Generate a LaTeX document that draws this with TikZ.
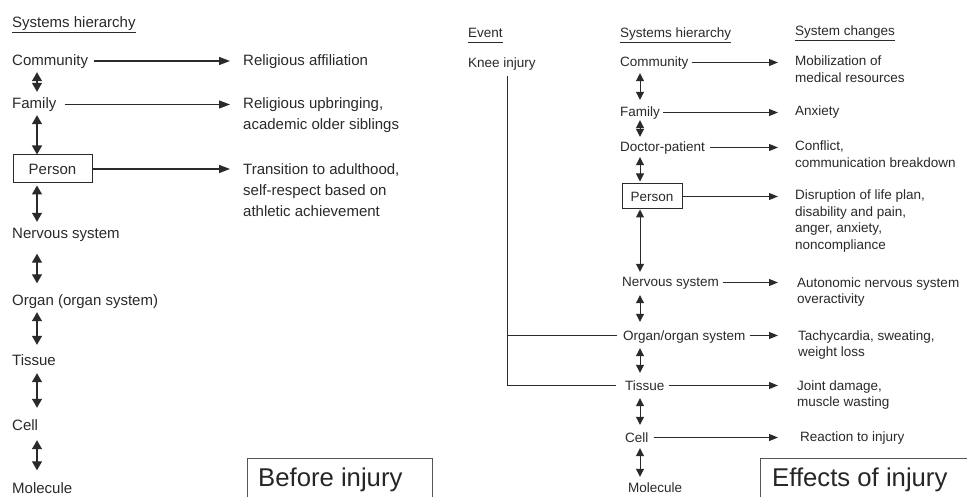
\documentclass[tikz,border=0pt]{standalone}
\usepackage{fontspec}
\setmainfont{Liberation Sans}
\usetikzlibrary{arrows.meta}
\definecolor{ink}{HTML}{2A2A2A}
\definecolor{boxline}{HTML}{555555}
\begin{document}
\begin{tikzpicture}[x=1pt,y=-1pt,
  every node/.style={text=ink},
  ltxt/.style={anchor=base west, inner sep=0pt, font=\fontsize{15}{21}\selectfont, text height=12pt, text depth=3pt},
  lmulti/.style={anchor=base west, inner sep=0pt, font=\fontsize{15}{21}\selectfont, align=left},
  rtxt/.style={anchor=base west, inner sep=0pt, font=\fontsize{13.5}{16.5}\selectfont, text height=11pt, text depth=2pt},
  rmulti/.style={anchor=base west, inner sep=0pt, font=\fontsize{13.5}{16.5}\selectfont, align=left},
  lbox/.style={draw=ink, line width=1pt, inner sep=0pt, minimum width=79pt, minimum height=28pt, font=\fontsize{15}{18}\selectfont},
  rbox/.style={draw=ink, line width=1pt, inner sep=0pt, minimum width=60pt, minimum height=25pt, font=\fontsize{13.5}{16}\selectfont},
  larr/.style={draw=ink, line width=1.2pt, -{Triangle[length=11pt,width=8pt]}},
  rarr/.style={draw=ink, line width=1pt, -{Triangle[length=9pt,width=7pt]}},
  ldarr/.style={draw=ink, line width=1.2pt, {Triangle[length=9pt,width=10pt]}-{Triangle[length=9pt,width=10pt]}},
  rdarr/.style={draw=ink, line width=1pt, {Triangle[length=8pt,width=8pt]}-{Triangle[length=8pt,width=8pt]}},
  uline/.style={draw=ink, line width=0.9pt},
  evl/.style={draw=ink, line width=1pt},
  tagbox/.style={draw=boxline, line width=1pt},
  tagtxt/.style={anchor=base west, inner sep=0pt, font=\fontsize{25.7}{30}\selectfont, text=black!85}
]
\useasboundingbox (0,0) rectangle (967,497);
\clip (0,0) rectangle (967,497);
\fill[white] (0,0) rectangle (967,497);

% ---------------- Left panel ----------------
\node[ltxt] (ltitle) at (12,28) {Systems hierarchy};
\draw[uline] ([yshift=-1pt]ltitle.south west) -- ([yshift=-1pt]ltitle.south east);

\node[ltxt] (lcomm) at (12,65.5) {Community};
\node[ltxt] (lfam) at (12,109) {Family};
\node[lbox] (lpers) at (52.5,169) {Person};
\node[ltxt] (lnerv) at (12,238.5) {Nervous system};
\node[ltxt] (lorg) at (12,305.5) {Organ (organ system)};
\node[ltxt] (ltis) at (12,365.5) {Tissue};
\node[ltxt] (lcell) at (12,430.5) {Cell};
\node[ltxt] (lmol) at (12,493.5) {Molecule};

% multi-line nodes: base anchor = baseline of the last line
\node[lmulti] (lrel) at (243,65.5) {Religious affiliation};
\node[lmulti] (lupb) at (243,130) {Religious upbringing,\\academic older siblings};
\node[lmulti] (ltrans) at (243,216.5) {Transition to adulthood,\\self-respect based on\\athletic achievement};

\draw[larr, shorten <=6pt, shorten >=13pt] (lcomm.east) -- (lcomm.east -| lrel.west);
\draw[larr, shorten <=8pt, shorten >=13pt] (lfam.east) -- (lfam.east -| lupb.west);
\draw[larr, shorten >=13pt] (lpers.east) -- (lpers.east -| ltrans.west);

\coordinate (LX) at (37,0);
\draw[ldarr, shorten <=3.5pt, shorten >=5pt] (LX |- lcomm.south) -- (LX |- lfam.north);
\draw[ldarr, shorten <=3pt] (LX |- lfam.south) -- (LX |- lpers.north);
\draw[ldarr, shorten <=2pt, shorten >=4.5pt] (LX |- lpers.south) -- (LX |- lnerv.north);
\draw[ldarr, shorten <=12pt, shorten >=10pt] (LX |- lnerv.south) -- (LX |- lorg.north);
\draw[ldarr, shorten <=3.5pt, shorten >=8.5pt] (LX |- lorg.south) -- (LX |- ltis.north);
\draw[ldarr, shorten <=4.5pt, shorten >=10.5pt] (LX |- ltis.south) -- (LX |- lcell.north);
\draw[ldarr, shorten <=6.5pt, shorten >=11pt] (LX |- lcell.south) -- (LX |- lmol.north);

\draw[tagbox] (247,458) rectangle (432,505);
\node[tagtxt] (before) at (258,486) {Before injury};

% ---------------- Right panel ----------------
\node[rtxt] (evt) at (468,38) {Event};
\draw[uline] ([yshift=-2pt]evt.south west) -- ([yshift=-2pt]evt.south east);
\node[rtxt] (rtitle) at (620,38) {Systems hierarchy};
\draw[uline] ([yshift=-2pt]rtitle.south west) -- ([yshift=-2pt]rtitle.south east);
\node[rtxt] (ctitle) at (795,36) {System changes};
\draw[uline] ([yshift=-2pt]ctitle.south west) -- ([yshift=-2pt]ctitle.south east);

\node[rtxt] (knee) at (468,68) {Knee injury};

\node[rtxt] (rcomm) at (620,67) {Community};
\node[rtxt] (rfam) at (620,117) {Family};
\node[rtxt] (rdoc) at (620,152) {Doctor-patient};
\node[rbox] (rpers) at (652,196.5) {Person};
\node[rtxt] (rnerv) at (622,287) {Nervous system};
\node[rtxt] (rorg) at (623,340) {Organ/organ system};
\node[rtxt] (rtis) at (625,390) {Tissue};
\node[rtxt] (rcell) at (625,442) {Cell};
\node[rtxt] (rmol) at (628,492) {Molecule};

\node[rmulti] (rmob) at (795,82.5) {Mobilization of\\medical resources};
\node[rmulti] (ranx) at (795,116) {Anxiety};
\node[rmulti] (rcon) at (795,167.5) {Conflict,\\communication breakdown};
\node[rmulti] (rdis) at (795,249.5) {Disruption of life plan,\\disability and pain,\\anger, anxiety,\\noncompliance};
\node[rmulti] (raut) at (797,303.5) {Autonomic nervous system\\overactivity};
\node[rmulti] (rtach) at (798,356.5) {Tachycardia, sweating,\\weight loss};
\node[rmulti] (rjoint) at (797,406.5) {Joint damage,\\muscle wasting};
\node[rmulti] (rreac) at (800,441) {Reaction to injury};

\draw[rarr, shorten <=3pt, shorten >=17pt] (rcomm.east) -- (rcomm.east -| rmob.west);
\draw[rarr, shorten <=3pt, shorten >=17pt] (rfam.east) -- (rfam.east -| ranx.west);
\draw[rarr, shorten <=5pt, shorten >=17pt] (rdoc.east) -- (rdoc.east -| rcon.west);
\draw[rarr, shorten >=17pt] (rpers.east) -- (rpers.east -| rdis.west);
\draw[rarr, shorten <=4pt, shorten >=19pt] (rnerv.east) -- (rnerv.east -| raut.west);
\draw[rarr, shorten <=4pt, shorten >=20pt] (rorg.east) -- (rorg.east -| rtach.west);
\draw[rarr, shorten <=4pt, shorten >=19pt] (rtis.east) -- (rtis.east -| rjoint.west);
\draw[rarr, shorten <=5pt, shorten >=22pt] (rcell.east) -- (rcell.east -| rreac.west);

\coordinate (RX) at (640,0);
\draw[rdarr, shorten <=4pt, shorten >=6pt] (RX |- rcomm.south) -- (RX |- rfam.north);
\draw[rdarr, shorten <=1pt, shorten >=4pt] (RX |- rfam.south) -- (RX |- rdoc.north);
\draw[rdarr, shorten <=3pt, shorten >=2pt] (RX |- rdoc.south) -- (RX |- rpers.north);
\draw[rdarr, shorten >=4pt] (RX |- rpers.south) -- (RX |- rnerv.north);
\draw[rdarr, shorten <=6pt, shorten >=7pt] (RX |- rnerv.south) -- (RX |- rorg.north);
\draw[rdarr, shorten <=6pt, shorten >=6pt] (RX |- rorg.south) -- (RX |- rtis.north);
\draw[rdarr, shorten <=6pt, shorten >=6pt] (RX |- rtis.south) -- (RX |- rcell.north);
\draw[rdarr, shorten <=4pt, shorten >=4pt] (RX |- rcell.south) -- (RX |- rmol.north);

\coordinate (VX) at (507,0);
\draw[evl, shorten <=6pt, shorten >=9pt] (VX |- knee.south) -- (VX |- rtis.west) -- (rtis.west);
\draw[evl, shorten >=6pt] (VX |- rorg.west) -- (rorg.west);

\draw[tagbox] (760,458) rectangle (975,505);
\node[tagtxt] (effects) at (772,486) {Effects of injury};
\end{tikzpicture}
\end{document}
